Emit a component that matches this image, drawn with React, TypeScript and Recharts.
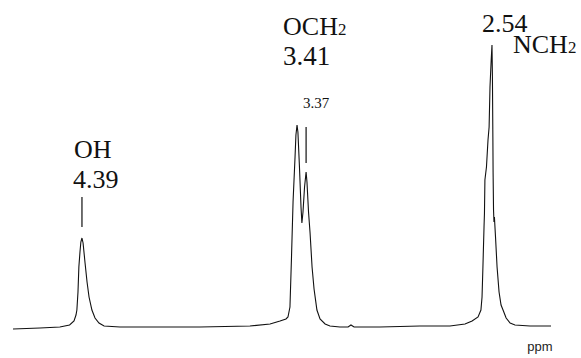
import React from 'react'
import { LineChart, Line, XAxis, YAxis, ReferenceLine, ReferenceDot } from 'recharts'

// chemical shift (ppm) and signal intensity
const shifts = [
  4.702, 4.58, 4.49, 4.446, 4.426, 4.417, 4.413, 4.408, 4.404, 4.399, 4.395, 4.39, 4.385,
  4.376, 4.367, 4.358, 4.345, 4.331, 4.313, 4.29, 4.218, 3.856, 3.63, 3.539, 3.494, 3.467,
  3.458, 3.449, 3.442, 3.435, 3.426, 3.422, 3.417, 3.413, 3.406, 3.399, 3.395, 3.39, 3.383,
  3.376, 3.372, 3.365, 3.358, 3.349, 3.34, 3.327, 3.313, 3.29, 3.268, 3.223, 3.186, 3.173,
  3.159, 3.042, 2.861, 2.725, 2.657, 2.625, 2.598, 2.585, 2.58, 2.576, 2.571, 2.569, 2.567,
  2.56, 2.553, 2.548, 2.544, 2.539, 2.535, 2.533, 2.531, 2.53, 2.528, 2.526, 2.524, 2.519,
  2.512, 2.503, 2.494, 2.485, 2.471, 2.453, 2.431, 2.363, 2.268,
]
const intensity = [
  -2, -1, 0, 2, 6, 12, 17, 35, 60, 75, 85, 89, 84,
  64, 45, 30, 17, 9, 4, 1, 0, 0, 1, 3, 6, 8,
  10, 20, 70, 125, 170, 192, 202, 195, 160, 120, 104, 115, 140,
  155, 145, 115, 94, 60, 38, 17, 8, 3, 1, 0, 0, 2,
  0, 0, 1, 1, 3, 6, 10, 17, 30, 60, 100, 114, 147,
  160, 187, 200, 240, 265, 282, 250, 190, 155, 117, 105, 110, 90,
  60, 35, 22, 17, 9, 4, 2, 1, 1,
]

// short marker lines under the shift labels
const markers = [
  { ppm: 4.39, from: 100, to: 130 },
  { ppm: 3.376, from: 164, to: 200 },
]

// text annotations: main text, optional subscript, anchor (ppm, intensity), font size
const labels = [
  { text: 'OH', sub: '', ppm: 4.426, y: 169, size: 26 },
  { text: '4.39', sub: '', ppm: 4.431, y: 139, size: 26 },
  { text: 'OCH', sub: '2', ppm: 3.48, y: 292, size: 26 },
  { text: '3.41', sub: '', ppm: 3.48, y: 262, size: 27 },
  { text: '3.37', sub: '', ppm: 3.39, y: 219, size: 15 },
  { text: '2.54', sub: '', ppm: 2.58, y: 295, size: 26 },
  { text: 'NCH', sub: '2', ppm: 2.44, y: 274, size: 26 },
]

const data = shifts.map((ppm, i) => ({ ppm, value: intensity[i] }))

const serif = '"Liberation Serif", "Times New Roman", Times, "DejaVu Serif", serif'

export default function App() {
  return (
    <div style={{ position: 'absolute', left: 0, top: 0, width: 581, height: 358, background: '#fff' }}>
      <LineChart width={581} height={358} data={data} margin={{ top: 27, right: 30, bottom: 21, left: 13 }}>
        <XAxis type="number" dataKey="ppm" domain={[2.268, 4.702]} reversed hide allowDataOverflow />
        <YAxis type="number" domain={[-10, 300]} hide allowDataOverflow />
        <Line
          type="linear"
          dataKey="value"
          stroke="#111"
          strokeWidth={1.1}
          dot={false}
          isAnimationActive={false}
        />
        {markers.map((m, i) => (
          <ReferenceLine
            key={`m-${i}`}
            segment={[{ x: m.ppm, y: m.from }, { x: m.ppm, y: m.to }]}
            stroke="#111"
            strokeWidth={1.2}
            ifOverflow="visible"
          />
        ))}
        {labels.map((l, i) => (
          <ReferenceDot
            key={`l-${i}`}
            x={l.ppm}
            y={l.y}
            r={0}
            ifOverflow="visible"
            shape={(p: any) => (
              <text
                x={p.cx}
                y={p.cy}
                style={{ fontFamily: serif, fontSize: l.size }}
                fill="#111"
                textAnchor="start"
              >
                {l.text}
                {l.sub && <tspan style={{ fontSize: l.size * 0.65 }}>{l.sub}</tspan>}
              </text>
            )}
          />
        ))}
        <ReferenceDot
          x={2.318}
          y={-24}
          r={0}
          ifOverflow="visible"
          shape={(p: any) => (
            <text
              x={p.cx}
              y={p.cy}
              style={{ fontFamily: '"Liberation Sans", Arial, sans-serif', fontSize: 13 }}
              fill="#222"
              textAnchor="middle"
            >
              ppm
            </text>
          )}
        />
      </LineChart>
    </div>
  )
}
